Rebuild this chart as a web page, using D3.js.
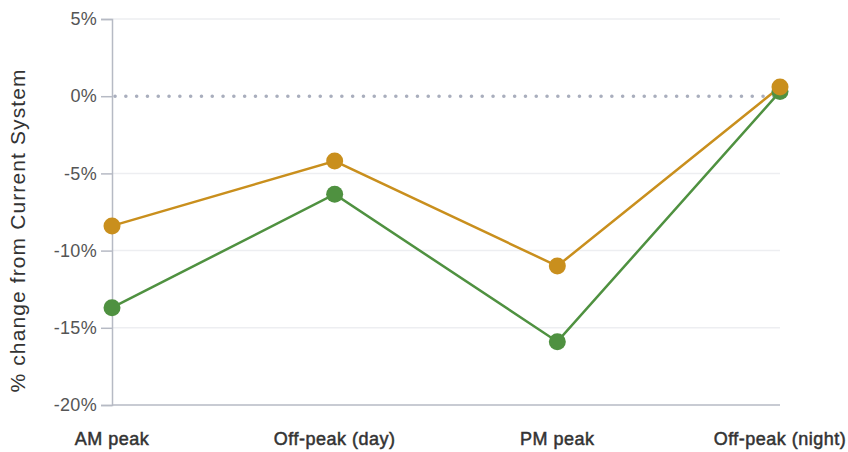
<!DOCTYPE html>
<html><head><meta charset="utf-8">
<script src="https://cdn.jsdelivr.net/npm/d3@7"></script>
<style>
body{margin:0;background:#fff;font-family:"Liberation Sans",Helvetica,Arial,sans-serif;}
</style></head><body>
<svg id="c" width="848" height="452"></svg>
<script>
const categories = ["AM peak","Off-peak (day)","PM peak","Off-peak (night)"];
const seriesOrange = [-8.4, -4.2, -11.0, 0.6];
const seriesGreen = [-13.7, -6.35, -15.9, 0.3];
const yTicks = [5, 0, -5, -10, -15, -20];

const FONT = "'Liberation Sans',Helvetica,Arial,sans-serif";
const svg = d3.select("#c");
const m = {left:112, right:780, top:19, bottom:405};
const x = d3.scalePoint().domain(categories).range([m.left, m.right]);
const y = d3.scaleLinear().domain([-20,5]).range([m.bottom, m.top]);

// gridlines
svg.append("g").selectAll("line").data(yTicks.filter(d=>d!==-20 && d!==0)).join("line")
  .attr("x1", m.left).attr("x2", m.right)
  .attr("y1", d=>y(d)).attr("y2", d=>y(d))
  .attr("stroke","#edeef1").attr("stroke-width",1.5);

// y axis
const ya = svg.append("g").attr("transform",`translate(${m.left},0)`)
  .call(d3.axisLeft(y).tickValues(yTicks).tickSize(11).tickPadding(4).tickFormat(d=>d+"%"));
ya.select(".domain").attr("stroke","#b6bac4").attr("stroke-width",1.5);
ya.selectAll(".tick line").attr("stroke","#b6bac4").attr("stroke-width",1.5);
ya.selectAll(".tick text").attr("fill","#555").attr("font-size","18px")
  .attr("letter-spacing","0.3").attr("font-family",FONT);

// x axis baseline
svg.append("line").attr("x1",m.left).attr("x2",m.right)
  .attr("y1",y(-20)).attr("y2",y(-20)).attr("stroke","#b6bac4").attr("stroke-width",1.5);

// x labels
svg.append("g").selectAll("text").data(categories).join("text")
  .attr("x", d=>x(d)).attr("y", 445).attr("text-anchor","middle")
  .attr("fill","#333").attr("stroke","#333").attr("stroke-width",0.5)
  .attr("font-size","18px").attr("font-family",FONT)
  .attr("letter-spacing","0.5")
  .text(d=>d);

// y title
svg.append("text").attr("transform",`translate(25,231) rotate(-90)`)
  .attr("text-anchor","middle").attr("fill","#333").attr("font-size","21px")
  .attr("font-family",FONT).attr("textLength",323).attr("lengthAdjust","spacing")
  .text("% change from Current System");

// zero dotted line
svg.append("line").attr("x1",m.left+3).attr("x2",m.right)
  .attr("y1",y(0)).attr("y2",y(0))
  .attr("stroke","#a9aebd").attr("stroke-width",3.5)
  .attr("stroke-linecap","round").attr("stroke-dasharray","0.1 10.7");

const series = [
  {vals: seriesGreen, color:"#4f9140"},
  {vals: seriesOrange, color:"#c98f1d"}
];
const line = d3.line().x((d,i)=>x(categories[i])).y(d=>y(d));
series.forEach(s=>{
  svg.append("path").datum(s.vals).attr("d",line)
    .attr("fill","none").attr("stroke",s.color).attr("stroke-width",2.5);
});
series.forEach(s=>{
  svg.append("g").selectAll("circle").data(s.vals).join("circle")
    .attr("cx",(d,i)=>x(categories[i])).attr("cy",d=>y(d)).attr("r",8.5)
    .attr("fill",s.color);
});
</script>
</body></html>
